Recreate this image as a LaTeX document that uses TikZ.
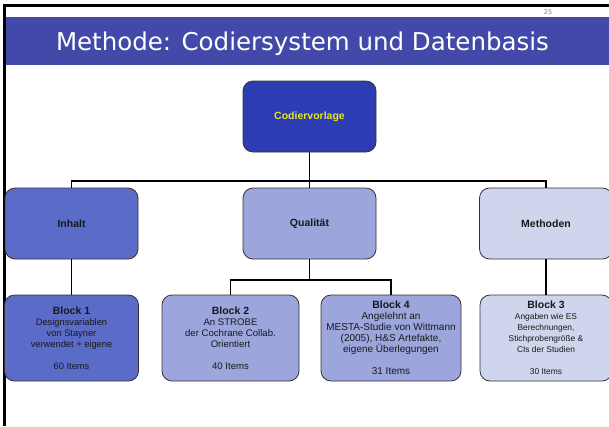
\documentclass[tikz,border=0pt]{standalone}
\usepackage{fontspec}
\setmainfont{Liberation Sans}
\newfontfamily\headfont{DejaVu Sans}
\definecolor{bandblue}{RGB}{67,73,168}
\definecolor{topblue}{RGB}{44,60,178}
\definecolor{levelone}{RGB}{91,107,200}
\definecolor{leveltwo}{RGB}{156,166,221}
\definecolor{levelthree}{RGB}{208,213,238}
\definecolor{labelyellow}{RGB}{232,232,20}
\definecolor{numblue}{RGB}{110,120,200}
\newcommand{\blocktitle}[1]{{\bfseries\fontsize{10.5}{11}\selectfont #1}}
\begin{document}
\begin{tikzpicture}[x=1pt,y=-1pt,
  box/.style={draw=black!80, line width=0.8pt, rounded corners=10pt,
    align=center, inner sep=2pt},
  headbox/.style={box, minimum width=133pt, minimum height=71pt,
    font=\bfseries\fontsize{10.5}{12}\selectfont, text=black!90},
  blockbox/.style={box, minimum height=86pt, text=black!90},
  conn/.style={draw=black, line width=1.9pt}]
\useasboundingbox (0,0) rectangle (609,426);
\fill[white] (0,0) rectangle (609,426);

% slide frame and title band
\fill[bandblue] (5,17) rectangle (609,65);
\draw[line width=3pt] (3,5.5) -- (609,5.5);
\draw[line width=2.4pt] (4.5,4) -- (4.5,426);
\node[font=\headfont\fontsize{24.5}{28}\selectfont, text=white, anchor=base]
  (title) at (302.5,50) {Methode: Codiersystem und Datenbasis};
\node[font=\headfont\fontsize{6.5}{8}\selectfont, text=numblue]
  (pagenum) at (548,12) {25};

% hierarchy boxes
\node[headbox, fill=topblue, text=labelyellow] (cod) at (309.5,116.5) {Codiervorlage};
\node[headbox, fill=levelone] (inhalt) at (71.5,223.5) {Inhalt};
\node[headbox, fill=leveltwo] (qual) at (309.5,223.5) {Qualität};
\node[headbox, fill=levelthree] (meth) at (546,223.5) {Methoden};

\node[blockbox, fill=levelone, minimum width=134pt,
  font=\fontsize{9.3}{11}\selectfont] (b1) at (71.5,338)
  {\blocktitle{Block 1}\\Designsvariablen\\von Stayner\\verwendet + eigene\\[11pt]60 Items};
\node[blockbox, fill=leveltwo, minimum width=137pt,
  font=\fontsize{9.6}{11}\selectfont] (b2) at (230.5,338)
  {\blocktitle{Block 2}\\An STROBE\\der Cochrane Collab.\\Orientiert\\[11pt]40 Items};
\node[blockbox, fill=leveltwo, minimum width=140pt,
  font=\fontsize{10}{11}\selectfont] (b4) at (391,338)
  {\blocktitle{Block 4}\\Angelehnt an\\MESTA-Studie von Wittmann\\(2005), H\&S Artefakte,\\eigene Überlegungen\\[11pt]31 Items};
\node[blockbox, fill=levelthree, minimum width=132pt,
  font=\fontsize{8.4}{11}\selectfont] (b3) at (546,338)
  {\blocktitle{Block 3}\\Angaben wie ES\\Berechnungen,\\Stichprobengröße \&\\CIs der Studien\\[11pt]30 Items};

% connectors
\draw[conn] (cod.south) -- ++(0,29) coordinate (hub);
\draw[conn] (inhalt.north) |- (hub) -| (meth.north);
\draw[conn] (hub) -- (qual.north);
\draw[conn] (inhalt.south) -- (b1.north);
\draw[conn] (qual.south) -- ++(0,21) coordinate (qhub);
\draw[conn] (b2.north) |- (qhub) -| (b4.north);
\draw[conn] (meth.south) -- (b3.north);
\end{tikzpicture}
\end{document}
